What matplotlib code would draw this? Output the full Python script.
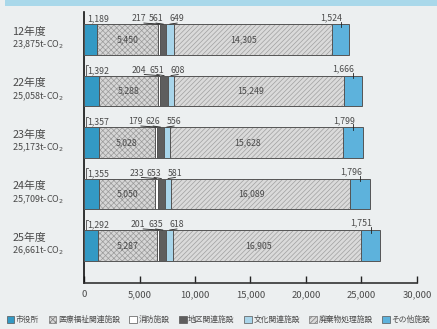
import numpy as np
import matplotlib
matplotlib.use('Agg')
from matplotlib import pyplot as plt
from matplotlib.patches import Patch, Rectangle
from matplotlib.ticker import FuncFormatter

# Data
years = ['12年度', '22年度', '23年度', '24年度', '25年度']
totals = ['23,875', '25,058', '25,173', '25,709', '26,661']
categories = ['市役所', '医療福祉関連施設', '消防施設', '地区関連施設',
              '文化関連施設', '廃棄物処理施設', 'その他施設']
city_hall = [1189, 1392, 1357, 1355, 1292]
medical = [5450, 5288, 5028, 5050, 5287]
fire = [217, 204, 179, 233, 201]
district = [561, 651, 626, 653, 635]
culture = [649, 608, 556, 581, 618]
waste = [14305, 15249, 15628, 16089, 16905]
other = [1524, 1666, 1799, 1796, 1751]

plt.rcParams['font.family'] = ['Noto Sans CJK JP', 'DejaVu Sans']
plt.rcParams['hatch.linewidth'] = 0.5

bg = '#eceff0'
txt = '#4a4a4a'
edge = '#555555'

fig = plt.figure(figsize=(4.37, 3.29), dpi=100, facecolor=bg)
ax1 = fig.add_axes([84 / 437, 1 - 283 / 329, (417 - 84) / 437, (283 - 12) / 329])
ax1.set_facecolor(bg)

# top banner
fig.patches.append(Rectangle((0.012, 1 - 6 / 329), 0.988, 6 / 329, transform=fig.transFigure,
                             facecolor='#a9d8ea', edgecolor='none'))

series = [city_hall, medical, fire, district, culture, waste, other]
styles = [
    dict(color='#3399c4', hatch=None, hcol=None),
    dict(color='#d6d6d6', hatch='xxxxxx', hcol='#9a9a9a'),
    dict(color='#ffffff', hatch=None, hcol=None),
    dict(color='#5e5e5e', hatch=None, hcol=None),
    dict(color='#a9d5ea', hatch=None, hcol=None),
    dict(color='#dadada', hatch='///////', hcol='#a0a0a0'),
    dict(color='#5db2dc', hatch=None, hcol=None),
]

y = np.arange(len(years))
h = 0.6
left = np.zeros(len(years))
starts = []
for vals, st in zip(series, styles):
    vals = np.array(vals, dtype=float)
    starts.append(left.copy())
    if st['hatch']:
        ax1.barh(y, vals, h, left=left, color=st['color'], hatch=st['hatch'],
                 edgecolor=st['hcol'], linewidth=0, zorder=2)
        ax1.barh(y, vals, h, left=left, fill=False, edgecolor=edge, linewidth=0.7, zorder=3)
    else:
        ax1.barh(y, vals, h, left=left, color=st['color'], edgecolor=edge, linewidth=0.7, zorder=3)
    left = left + vals

# value labels
fs = 6.3
ly = -0.40
for i in range(len(years)):
    top = y[i] - h / 2
    # city hall
    ax1.text(250, y[i] + ly, f'{city_hall[i]:,}', ha='left', va='center', fontsize=fs, color=txt)
    if i > 0:
        ax1.plot([180, 180, 330], [top, y[i] + ly - 0.1, y[i] + ly - 0.1], color=txt, lw=0.6)
    # inside labels
    ax1.text(starts[1][i] + medical[i] / 2, y[i], f'{medical[i]:,}', ha='center', va='center',
             fontsize=fs, color=txt, zorder=4)
    ax1.text(starts[5][i] + waste[i] / 2 - 800, y[i], f'{waste[i]:,}', ha='center', va='center',
             fontsize=fs, color=txt, zorder=4)
    # small segments
    c3 = starts[2][i] + fire[i] / 2
    c4 = starts[3][i] + district[i] / 2
    c5 = starts[4][i] + culture[i] / 2
    for c, v, off in [(c3, fire[i], -1800), (c4, district[i], -650), (c5, culture[i], 650)]:
        ax1.text(c + off, y[i] + ly, f'{v:,}', ha='center', va='center', fontsize=fs, color=txt)
        ax1.plot([c + off + (450 if off < -1000 else 0), c], [y[i] + ly + 0.08, top], color='#222222',
                 lw=0.6, zorder=4)
    # other
    c7 = starts[6][i] + other[i] / 2
    ax1.text(c7 + 150, y[i] + ly - 0.03, f'{other[i]:,}', ha='right', va='center', fontsize=fs, color=txt)
    ax1.plot([c7, c7], [y[i] + ly + 0.05, top + 0.05], color='#222222', lw=0.6, zorder=4)

    # row labels
    ax1.text(-0.216, y[i] - 0.15, years[i], transform=ax1.get_yaxis_transform(), ha='left',
             va='center', fontsize=7.8, color=txt)
    ax1.text(-0.216, y[i] + 0.11, totals[i] + 't-CO$_2$', transform=ax1.get_yaxis_transform(),
             ha='left', va='center', fontsize=6.5, color=txt)

ax1.set_xlim(0, 30000)
ax1.set_ylim(4.73, -0.535)
ax1.set_yticks([])
ax1.set_xticks(np.arange(0, 30001, 5000))
ax1.xaxis.set_major_formatter(FuncFormatter(lambda v, p: f'{int(v):,}'))
ax1.tick_params(axis='x', direction='in', length=5, width=1, color='#222222',
                labelsize=6.8, labelcolor=txt, pad=5)
for s in ['top', 'right']:
    ax1.spines[s].set_visible(False)
ax1.spines['left'].set_color('#111111')
ax1.spines['bottom'].set_color('#333333')
ax1.spines['left'].set_linewidth(1.2)
ax1.spines['bottom'].set_linewidth(1.2)

handles = []
for name, st in zip(categories, styles):
    if st['hatch']:
        handles.append(Patch(facecolor=st['color'], hatch=st['hatch'], edgecolor='#777777',
                             linewidth=0.5, label=name))
    else:
        handles.append(Patch(facecolor=st['color'], edgecolor=edge, linewidth=0.5, label=name))
fig.legend(handles=handles, loc='center left', bbox_to_anchor=(0.008, 0.027), ncol=7,
           frameon=False, fontsize=5.6, handlelength=1.0, handleheight=1.0,
           handletextpad=0.2, columnspacing=1.2, borderaxespad=0, labelcolor=txt)

plt.savefig('out.png', dpi=100, facecolor=bg)
